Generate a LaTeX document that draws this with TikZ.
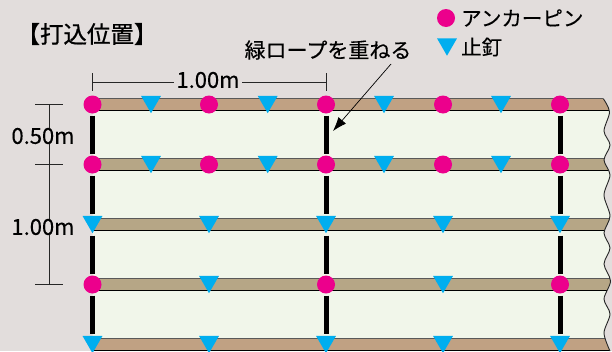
\documentclass[tikz,border=0pt]{standalone}
\usepackage{fontspec}
\setmainfont[FakeBold=0.25]{Noto Sans CJK JP}
\newfontfamily\titlefont[FakeBold=0.9]{Noto Sans CJK JP}
\usetikzlibrary{shapes.geometric,arrows.meta}
\definecolor{bgcol}{HTML}{E2DDDC}
\definecolor{panelcol}{HTML}{F1F6EA}
\definecolor{brncol}{HTML}{C0A183}
\definecolor{tancol}{HTML}{B6A686}
\definecolor{pincol}{HTML}{EC008C}
\definecolor{nailcol}{HTML}{00AEEF}
\tikzset{
  pin/.style={circle,fill=pincol,inner sep=0,minimum size=18pt},
  nail/.style={regular polygon,regular polygon sides=3,shape border rotate=180,fill=nailcol,inner sep=0,minimum size=23pt,yshift=2.8pt},
  bar/.style={line width=5pt,shorten >=11pt,shorten <=11pt},
  dimline/.style={line width=0.6pt,black!85},
  lbl/.style={font=\fontsize{21}{21}\selectfont,inner sep=1pt},
  dimlbl/.style={font=\fontsize{22}{22}\selectfont,fill=bgcol,inner xsep=2pt,inner ysep=0pt},
}
\def\waveedge{(603.5,99) (609.5,112) (604,131) (610,145) (604,160) (610,175) (604,195) (610,216) (604,233) (610,248) (604,264) (610.5,281) (604,299) (610,314) (604,333) (610,351)}
\begin{document}
\begin{tikzpicture}[x=1pt,y=-1pt]
\useasboundingbox[fill=bgcol] (0,0) rectangle (612,351);
% panel and ropes
\fill[panelcol] (92.5,99) -- plot[smooth] coordinates {\waveedge} -- (92.5,351) -- cycle;
\begin{scope}
\clip (92.5,90) -- (603.5,90) -- plot[smooth] coordinates {\waveedge} -- (92.5,351) -- cycle;
\foreach \y/\c in {104.5/brncol,164.5/tancol,224.5/tancol,284.5/tancol,344.5/brncol} {
  \fill[\c] (92.5,\y-5.5) rectangle (615,\y+5.5);
  \draw[black!65,line width=0.8pt] (92.5,\y-5.7) -- (615,\y-5.7);
  \draw[black,line width=0.8pt] (92.5,\y+5.6) -- (615,\y+5.6);
}
\end{scope}
\draw[line width=0.9pt,black!85] plot[smooth] coordinates {\waveedge};
% grid
\foreach \c/\x in {1/92.5,2/209,3/326,4/443,5/560} {
  \foreach \r/\y in {1/104.5,2/164.5,3/224.5,4/284.5,5/344.5} { \coordinate (g\c\r) at (\x,\y); }
}
\foreach \c in {1,3,5} {
  \foreach \r/\s in {1/2,2/3,3/4,4/5} { \draw[bar] (g\c\r) -- (g\c\s); }
}
% anchor pins
\foreach \c/\r in {1/1,2/1,3/1,4/1,5/1,1/2,2/2,3/2,4/2,5/2,1/4,3/4,5/4} { \node[pin] (pin\c\r) at (g\c\r) {}; }
% nails
\foreach \c/\r in {1/3,2/3,3/3,4/3,5/3,2/4,4/4,1/5,2/5,3/5,4/5,5/5} { \node[nail] (nail\c\r) at (g\c\r) {}; }
\foreach \x in {151,267.7,384,501} {
  \foreach \y in {104.5,164.5} { \node[nail] at (\x,\y) {}; }
}
% dimensions
\coordinate (dt1) at (92.5,73); \coordinate (db1) at (92.5,91);
\coordinate (dt2) at (326,73); \coordinate (db2) at (326,91);
\coordinate (dh1) at (92.5,82); \coordinate (dh2) at (326,82);
\draw[dimline] (dt1) -- (db1);
\draw[dimline] (dt2) -- (db2);
\draw[dimline] (dh1) -- (dh2);
\node[dimlbl] (top) at (208,80) {1.00m};
\coordinate (dv1) at (49,104.5); \coordinate (dv2) at (49,164.5); \coordinate (dv3) at (49,284.5);
\draw[dimline] (dv1) -- (dv3);
\foreach \n in {1,2,3} { \draw[dimline] ([xshift=-14pt]dv\n) -- ([xshift=14pt]dv\n); }
\node[dimlbl] (half) at (43,136) {0.50m};
\node[dimlbl] (one) at (43,227) {1.00m};
% labels
\node[lbl,font=\fontsize{23.5}{23.5}\selectfont\titlefont] (title) at (87,34) {【打込位置】};
\node[lbl] (rope) at (328,50) {緑ロープを重ねる};
\coordinate (rs) at (391,64); \coordinate (re) at (333,131);
\draw[-{Latex[length=14pt,width=10pt]},line width=0.7pt] (rs) -- (re);
% legend
\node[pin] (lgpin) at (446,18) {};
\node[nail] (lgnail) at (447,47) {};
\node[lbl,anchor=west,font=\fontsize{20.5}{20.5}\selectfont] (lgpintxt) at (460,18) {アンカーピン};
\node[lbl,anchor=west,font=\fontsize{20.5}{20.5}\selectfont] (lgnailtxt) at (460,47) {止釘};
\end{tikzpicture}
\end{document}
